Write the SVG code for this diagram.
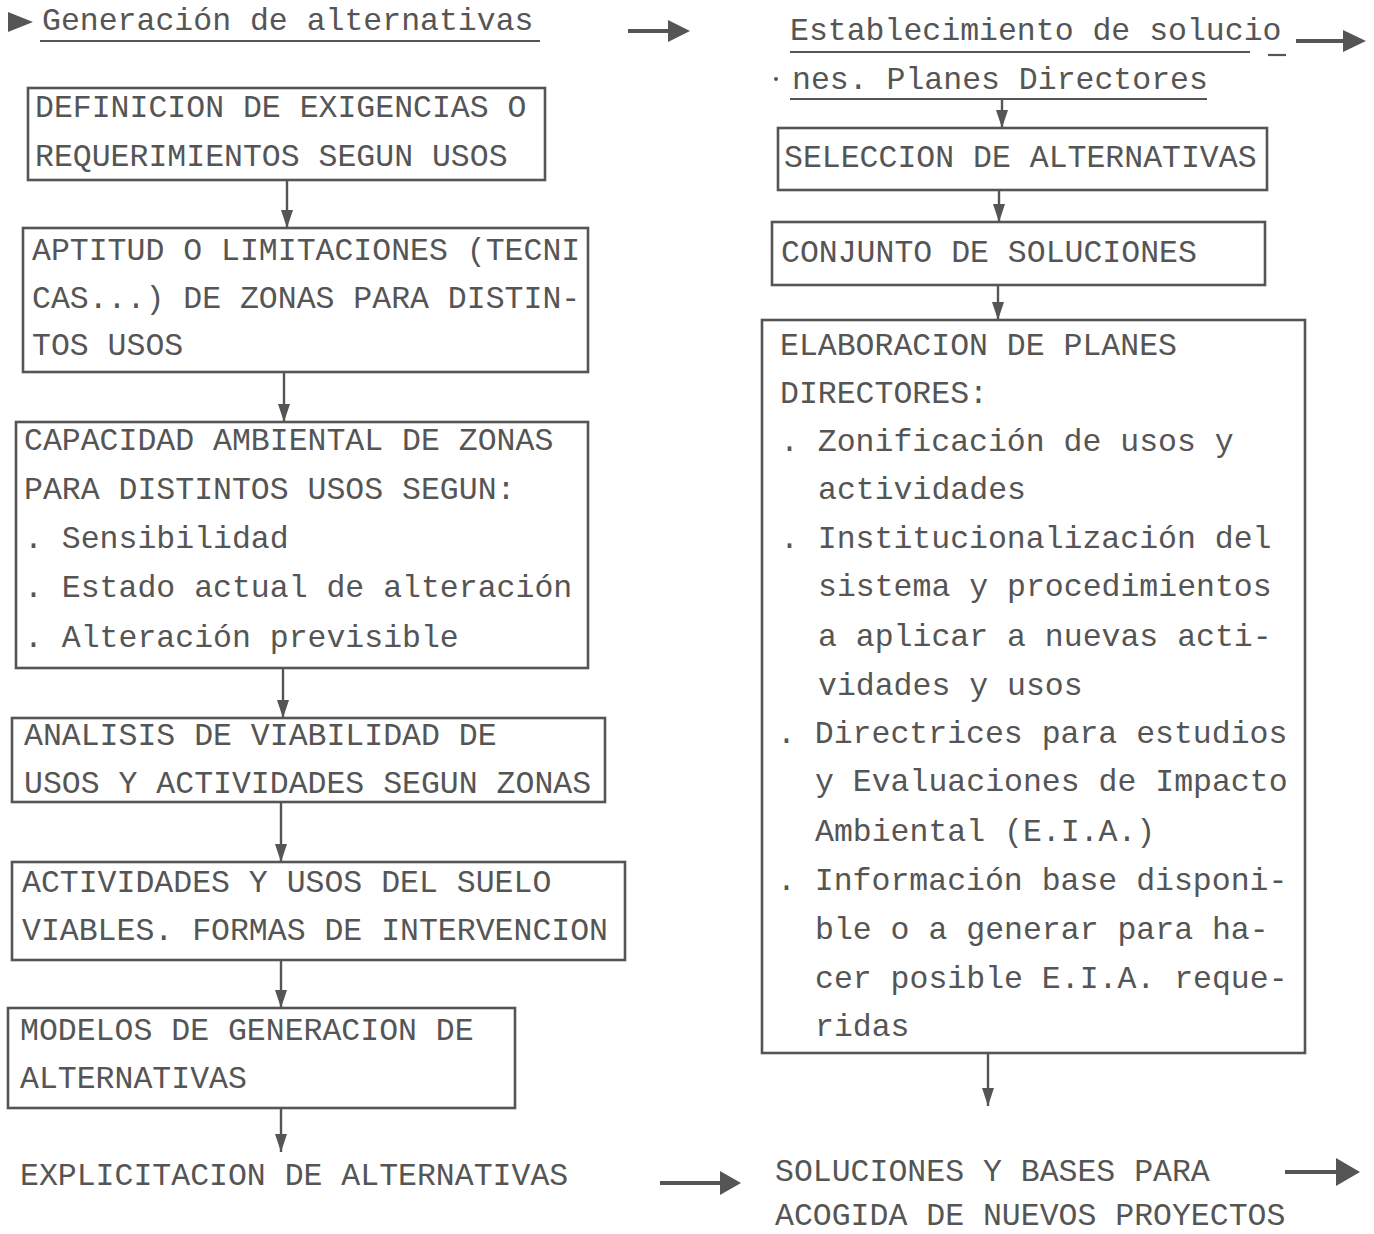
<svg xmlns="http://www.w3.org/2000/svg" width="1374" height="1234" viewBox="0 0 1374 1234">
<defs>
<style>
text{font-family:"Liberation Mono","DejaVu Sans Mono",monospace;font-size:31.5px;fill:#555}
.box{fill:none;stroke:#555;stroke-width:2.6}
.con{fill:none;stroke:#555;stroke-width:2.4}
.big{fill:none;stroke:#555;stroke-width:4}
.ul{fill:none;stroke:#555;stroke-width:2.2}
</style>
<marker id="ah" viewBox="0 0 18 12" refX="18" refY="6" markerWidth="18" markerHeight="12" markerUnits="userSpaceOnUse" orient="auto">
<path d="M0,0 L18,6 L0,12 Z" fill="#555"/>
</marker>
</defs>
<rect width="1374" height="1234" fill="#fff"/>

<g id="title-left">
<polygon points="8,12 33,22 8,32" fill="#555"/>
<text x="42" y="30">Generación de alternativas</text>
<line class="ul" x1="40" y1="41" x2="540" y2="41"/>
</g>
<g id="title-right">
<text x="790" y="40">Establecimiento de solucio</text>
<line class="ul" x1="790" y1="52" x2="1250" y2="52"/>
<line class="ul" x1="1268" y1="55" x2="1286" y2="55"/>
<circle cx="776" cy="79" r="2" fill="#555"/>
<text x="792" y="89">nes. Planes Directores</text>
<line class="ul" x1="790" y1="99" x2="1207" y2="99"/>
</g>

<g id="n1">
<rect class="box" x="28" y="88" width="517" height="92"/>
<text x="35" y="117">DEFINICION DE EXIGENCIAS O</text>
<text x="35" y="166">REQUERIMIENTOS SEGUN USOS</text>
</g>
<g id="n2">
<rect class="box" x="23" y="228" width="565" height="144"/>
<text x="32" y="260">APTITUD O LIMITACIONES (TECNI</text>
<text x="32" y="308">CAS...) DE ZONAS PARA DISTIN-</text>
<text x="32" y="355">TOS USOS</text>
</g>
<g id="n3">
<rect class="box" x="16" y="422" width="572" height="246"/>
<text x="24" y="450">CAPACIDAD AMBIENTAL DE ZONAS</text>
<text x="24" y="499">PARA DISTINTOS USOS SEGUN:</text>
<text x="24" y="548">. Sensibilidad</text>
<text x="24" y="597">. Estado actual de alteración</text>
<text x="24" y="647">. Alteración previsible</text>
</g>
<g id="n4">
<rect class="box" x="12" y="718" width="593" height="84"/>
<text x="24" y="745">ANALISIS DE VIABILIDAD DE</text>
<text x="24" y="793">USOS Y ACTIVIDADES SEGUN ZONAS</text>
</g>
<g id="n5">
<rect class="box" x="12" y="862" width="613" height="98"/>
<text x="22" y="892">ACTIVIDADES Y USOS DEL SUELO</text>
<text x="22" y="940">VIABLES. FORMAS DE INTERVENCION</text>
</g>
<g id="n6">
<rect class="box" x="8" y="1008" width="507" height="100"/>
<text x="20" y="1040">MODELOS DE GENERACION DE</text>
<text x="20" y="1088">ALTERNATIVAS</text>
</g>
<g id="n7">
<text x="20" y="1185">EXPLICITACION DE ALTERNATIVAS</text>
</g>

<g id="r1">
<rect class="box" x="778" y="128" width="489" height="62"/>
<text x="784" y="167">SELECCION DE ALTERNATIVAS</text>
</g>
<g id="r2">
<rect class="box" x="772" y="222" width="493" height="63"/>
<text x="781" y="262">CONJUNTO DE SOLUCIONES</text>
</g>
<g id="r3">
<rect class="box" x="762" y="320" width="543" height="733"/>
<text x="780" y="355">ELABORACION DE PLANES</text>
<text x="780" y="403">DIRECTORES:</text>
<text x="780" y="451">. Zonificación de usos y</text>
<text x="818" y="499">actividades</text>
<text x="780" y="548">. Institucionalización del</text>
<text x="818" y="596">sistema y procedimientos</text>
<text x="818" y="646">a aplicar a nuevas acti-</text>
<text x="818" y="695">vidades y usos</text>
<text x="777" y="743">. Directrices para estudios</text>
<text x="815" y="791">y Evaluaciones de Impacto</text>
<text x="815" y="841">Ambiental (E.I.A.)</text>
<text x="777" y="890">. Información base disponi-</text>
<text x="815" y="939">ble o a generar para ha-</text>
<text x="815" y="988">cer posible E.I.A. reque-</text>
<text x="815" y="1036">ridas</text>
</g>
<g id="r4">
<text x="775" y="1181">SOLUCIONES Y BASES PARA</text>
<text x="775" y="1225">ACOGIDA DE NUEVOS PROYECTOS</text>
</g>

<g id="connectors">
<line class="con" x1="287" y1="180" x2="287" y2="228" marker-end="url(#ah)"/>
<line class="con" x1="284" y1="372" x2="284" y2="422" marker-end="url(#ah)"/>
<line class="con" x1="283" y1="668" x2="283" y2="718" marker-end="url(#ah)"/>
<line class="con" x1="281" y1="802" x2="281" y2="862" marker-end="url(#ah)"/>
<line class="con" x1="281" y1="960" x2="281" y2="1008" marker-end="url(#ah)"/>
<line class="con" x1="281" y1="1108" x2="281" y2="1152" marker-end="url(#ah)"/>
<line class="con" x1="1002" y1="99" x2="1002" y2="128" marker-end="url(#ah)"/>
<line class="con" x1="999" y1="190" x2="999" y2="222" marker-end="url(#ah)"/>
<line class="con" x1="998" y1="285" x2="998" y2="320" marker-end="url(#ah)"/>
<line class="con" x1="988" y1="1053" x2="988" y2="1106" marker-end="url(#ah)"/>
<g id="hz">
<line class="big" x1="628" y1="31" x2="670" y2="31"/>
<polygon points="668,20 690,31 668,42" fill="#555"/>
<line class="big" x1="1296" y1="41" x2="1345" y2="41"/>
<polygon points="1343,30 1366,41 1343,52" fill="#555"/>
<line class="big" x1="660" y1="1183" x2="722" y2="1183"/>
<polygon points="720,1171 741,1183 720,1195" fill="#555"/>
<line class="big" x1="1285" y1="1172" x2="1338" y2="1172"/>
<polygon points="1336,1158 1360,1172 1336,1186" fill="#555"/>
</g>
</g>
</svg>
